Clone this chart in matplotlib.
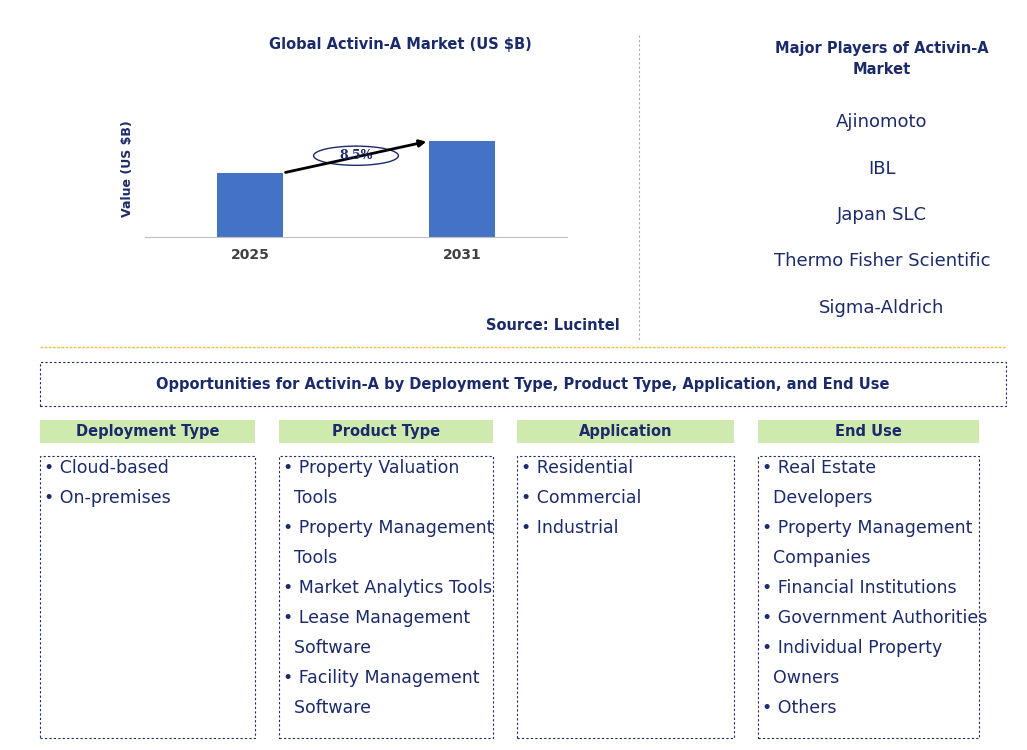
import matplotlib
matplotlib.use("Agg")
import matplotlib.pyplot as plt
from matplotlib.patches import Rectangle, Ellipse

W, H = 1027, 750
NAVY = "#1b2a6b"
GREEN = "#cfeaae"

years = ["2025", "2031"]
values = [1.0, 1.5]
cagr = "8.5%"
players = ["Ajinomoto", "IBL", "Japan SLC", "Thermo Fisher Scientific", "Sigma-Aldrich"]
segments = ["Deployment Type", "Product Type", "Application", "End Use"]
segment_items = [
    ["Cloud-based", "On-premises"],
    ["Property Valuation\nTools", "Property Management\nTools", "Market Analytics Tools",
     "Lease Management\nSoftware", "Facility Management\nSoftware"],
    ["Residential", "Commercial", "Industrial"],
    ["Real Estate\nDevelopers", "Property Management\nCompanies", "Financial Institutions",
     "Government Authorities", "Individual Property\nOwners", "Others"],
]

fig = plt.figure(figsize=(W / 100, H / 100), dpi=100)


def fx(x):
    return x / W


def fy(y):
    return 1 - y / H


def box(x0, y0, x1, y1, **kw):
    fig.patches.append(Rectangle((fx(x0), fy(y1)), fx(x1 - x0), (y1 - y0) / H,
                                 transform=fig.transFigure, **kw))


# bar chart
ax = fig.add_axes([fx(145), fy(237), fx(567 - 145), (237 - 100) / H])
xs = range(len(years))
ax.bar(xs, values, width=0.31, color="#4472c4")
ax.set_xlim(-0.495, 1.495)
ax.set_ylim(0, values[1] * 137 / 96)
ax.set_xticks(list(xs))
ax.set_xticklabels(years, fontweight="bold", color="#404040", fontsize=10)
ax.tick_params(axis="x", length=0, pad=8)
ax.set_yticks([])
for s in ["top", "right", "left"]:
    ax.spines[s].set_visible(False)
ax.spines["bottom"].set_color("#bfbfbf")
ax.set_ylabel("Value (US $B)", fontweight="bold", color=NAVY, fontsize=9, labelpad=8)
ax.annotate("", xy=(1 - 0.155, values[1]), xytext=(0.155, values[0]),
            arrowprops=dict(arrowstyle="-|>", color="black", lw=2))
ax.add_patch(Ellipse((0.5, values[0] + (values[1] - values[0]) / 2 + 0.02), 0.4, 0.3,
                     facecolor="white", edgecolor=NAVY, lw=1))
ax.text(0.5, values[0] + (values[1] - values[0]) / 2 + 0.02, cagr, ha="center", va="center",
        fontsize=9, fontweight="bold", color=NAVY, family="DejaVu Serif")

fig.text(fx(400), fy(44), "Global Activin-A Market (US $B)", ha="center", va="center",
         fontsize=10.5, fontweight="bold", color=NAVY)
fig.text(fx(620), fy(326), "Source: Lucintel", ha="right", va="center",
         fontsize=10.5, fontweight="bold", color=NAVY)

# divider
fig.add_artist(plt.Line2D([fx(639), fx(639)], [fy(35), fy(340)], transform=fig.transFigure,
                          color="#aaaaaa", lw=0.8, ls=(0, (2, 2))))

# players
fig.text(fx(882), fy(59), "Major Players of Activin-A\nMarket", ha="center", va="center",
         fontsize=10.5, fontweight="bold", color=NAVY, linespacing=1.5)
for i, p in enumerate(players):
    fig.text(fx(882), fy(122 + i * 46.5), p, ha="center", va="center", fontsize=13, color=NAVY)

fig.add_artist(plt.Line2D([fx(40), fx(1005)], [fy(347), fy(347)], transform=fig.transFigure,
                          color="#f0c040", lw=1, ls=(0, (2, 1))))

box(40, 362, 1006, 406, facecolor="none", edgecolor=NAVY, lw=0.8, ls=(0, (2, 2)))
fig.text(fx(523), fy(384),
         "Opportunities for Activin-A by Deployment Type, Product Type, Application, and End Use",
         ha="center", va="center", fontsize=10.5, fontweight="bold", color=NAVY)

cols = [(40, 255), (279, 493), (517, 734), (758, 979)]
for (x0, x1), seg, items in zip(cols, segments, segment_items):
    box(x0, 420, x1, 443, facecolor=GREEN, edgecolor="none")
    fig.text(fx((x0 + x1) / 2), fy(431.5), seg, ha="center", va="center",
             fontsize=10.5, fontweight="bold", color=NAVY)
    box(x0, 456, x1, 738, facecolor="none", edgecolor=NAVY, lw=0.8, ls=(0, (2, 2)))
    line = 0
    for it in items:
        parts = it.split("\n")
        for j, part in enumerate(parts):
            txt = ("• " if j == 0 else "  ") + part
            fig.text(fx(x0 + 4), fy(468 + line * 30), txt, ha="left", va="center",
                     fontsize=12.5, color=NAVY)
            line += 1

fig.savefig("out.png", dpi=100)
